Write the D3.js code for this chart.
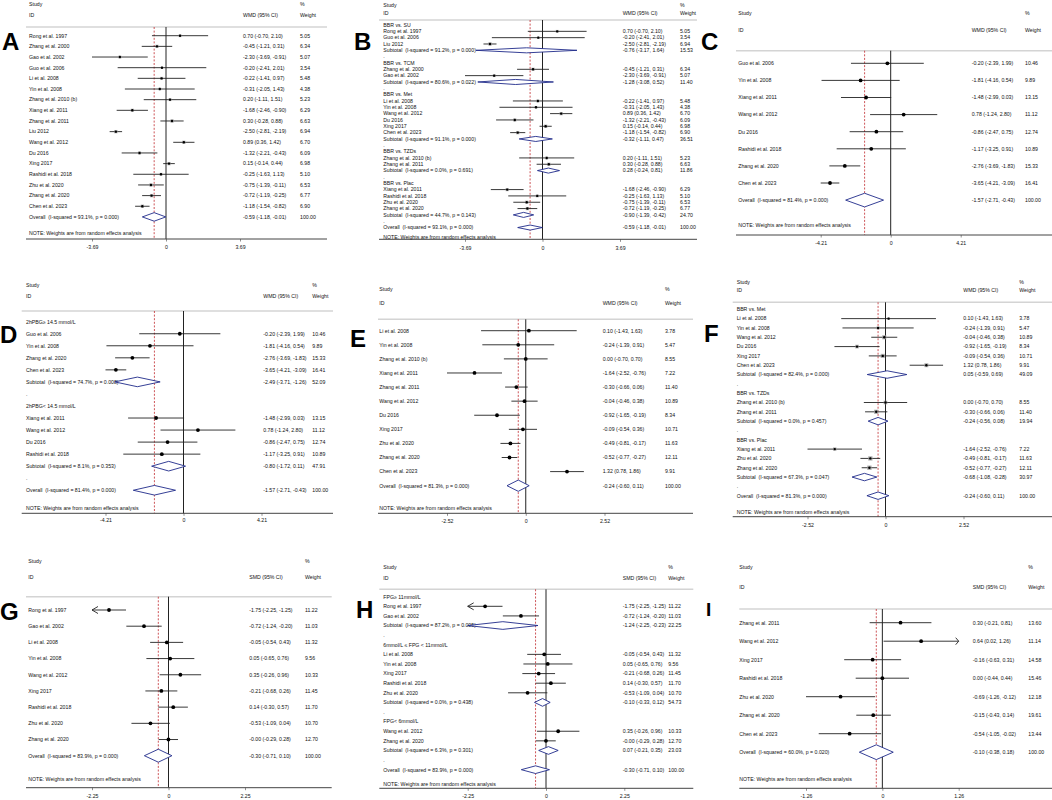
<!DOCTYPE html>
<html><head><meta charset="utf-8">
<script src="https://cdn.jsdelivr.net/npm/d3@7"></script>
<style>body{margin:0;background:#fff} svg text{font-family:"Liberation Sans",Arial,sans-serif;white-space:pre}</style>
</head><body><svg id="c" width="1052" height="800"></svg>
<script>
// ---------- DATA: WMD (panels A, B) ----------
const studiesA = ["Rong et al. 1997","Zhang et al. 2000","Gao et al. 2002","Guo et al. 2006","Li et al. 2008","Yin et al. 2008","Zhang et al. 2010 (b)","Xiang et al. 2011","Zhang et al. 2011","Liu 2012","Wang et al. 2012","Du 2016","Xing 2017","Rashidi et al. 2018","Zhu et al. 2020","Zhang et al. 2020","Chen et al. 2023"];
const estA  = [0.70,-0.45,-2.30,-0.20,-0.22,-0.31,0.20,-1.68,0.30,-2.50,0.89,-1.32,0.15,-0.25,-0.75,-0.72,-1.18];
const lowA  = [-0.70,-1.21,-3.69,-2.41,-1.41,-2.05,-1.11,-2.46,-0.28,-2.81,0.36,-2.21,-0.14,-1.63,-1.39,-1.19,-1.54];
const highA = [2.10,0.31,-0.91,2.01,0.97,1.43,1.51,-0.90,0.88,-2.19,1.42,-0.43,0.44,1.13,-0.11,-0.25,-0.82];
const wA    = [5.05,6.34,5.07,3.54,5.48,4.38,5.23,6.29,6.63,6.94,6.70,6.09,6.98,5.10,6.53,6.77,6.90];
const overallA = [-0.59,-1.18,-0.01]; const overallA_I2 = "93.1%"; const overallA_p = "0.000";
const ticksA = [-3.69, 0, 3.69];

const groupsB = ["BBR vs. SU","BBR vs. TCM","BBR vs. Met","BBR vs. TZDs","BBR vs. Plac"];
const membersB = [["Rong et al. 1997","Guo et al. 2006","Liu 2012"],["Zhang et al. 2000","Gao et al. 2002"],["Li et al. 2008","Yin et al. 2008","Wang et al. 2012","Du 2016","Xing 2017","Chen et al. 2023"],["Zhang et al. 2010 (b)","Zhang et al. 2011"],["Xiang et al. 2011","Rashidi et al. 2018","Zhu et al. 2020","Zhang et al. 2020"]];
const subEstB  = [-0.76,-1.28,-0.32,0.28,-0.90];
const subLowB  = [-3.17,-3.08,-1.11,-0.24,-1.39];
const subHighB = [1.64,0.52,0.47,0.81,-0.42];
const subWB    = [15.53,11.40,36.51,11.86,24.70];
const subI2B   = ["91.2%","80.6%","91.1%","0.0%","44.7%"];
const subPB    = ["0.000","0.022","0.000","0.691","0.143"];

// ---------- DATA: panels C, D ----------
const studiesC = ["Guo et al. 2006","Yin et al. 2008","Xiang et al. 2011","Wang et al. 2012","Du 2016","Rashidi et al. 2018","Zhang et al. 2020","Chen et al. 2023"];
const estC  = [-0.20,-1.81,-1.48,0.78,-0.86,-1.17,-2.76,-3.65];
const lowC  = [-2.39,-4.16,-2.99,-1.24,-2.47,-3.25,-3.69,-4.21];
const highC = [1.99,0.54,0.03,2.80,0.75,0.91,-1.83,-3.09];
const wC    = [10.46,9.89,13.15,11.12,12.74,10.89,15.33,16.41];
const overallC = [-1.57,-2.71,-0.43]; const overallC_I2 = "81.4%"; const overallC_p = "0.000";
const ticksC = [-4.21, 0, 4.21];

const groupsD = ["2hPBG\u2265 14.5 mmol/L","2hPBG< 14.5 mmol/L"];
const membersD = [["Guo et al. 2006","Yin et al. 2008","Zhang et al. 2020","Chen et al. 2023"],["Xiang et al. 2011","Wang et al. 2012","Du 2016","Rashidi et al. 2018"]];
const subEstD  = [-2.49,-0.80];
const subLowD  = [-3.71,-1.72];
const subHighD = [-1.26,0.11];
const subWD    = [52.09,47.91];
const subI2D   = ["74.7%","8.1%"];
const subPD    = ["0.008","0.353"];

// ---------- DATA: panels E, F ----------
const studiesE = ["Li et al. 2008","Yin et al. 2008","Zhang et al. 2010 (b)","Xiang et al. 2011","Zhang et al. 2011","Wang et al. 2012","Du 2016","Xing 2017","Zhu et al. 2020","Zhang et al. 2020","Chen et al. 2023"];
const estE  = [0.10,-0.24,0.00,-1.64,-0.30,-0.04,-0.92,-0.09,-0.49,-0.52,1.32];
const lowE  = [-1.43,-1.39,-0.70,-2.52,-0.66,-0.46,-1.65,-0.54,-0.81,-0.77,0.78];
const highE = [1.63,0.91,0.70,-0.76,0.06,0.38,-0.19,0.36,-0.17,-0.27,1.86];
const wE    = [3.78,5.47,8.55,7.22,11.40,10.89,8.34,10.71,11.63,12.11,9.91];
const overallE = [-0.24,-0.60,0.11]; const overallE_I2 = "81.3%"; const overallE_p = "0.000";
const ticksE = [-2.52, 0, 2.52];

const groupsF = ["BBR vs. Met","BBR vs. TZDs","BBR vs. Plac"];
const membersF = [["Li et al. 2008","Yin et al. 2008","Wang et al. 2012","Du 2016","Xing 2017","Chen et al. 2023"],["Zhang et al. 2010 (b)","Zhang et al. 2011"],["Xiang et al. 2011","Zhu et al. 2020","Zhang et al. 2020"]];
const subEstF  = [0.05,-0.24,-0.68];
const subLowF  = [-0.59,-0.56,-1.08];
const subHighF = [0.69,0.08,-0.28];
const subWF    = [49.09,19.94,30.97];
const subI2F   = ["82.4%","0.0%","67.3%"];
const subPF    = ["0.000","0.457","0.047"];

// ---------- DATA: panels G, H (SMD) ----------
const studiesG = ["Rong et al. 1997","Gao et al. 2002","Li et al. 2008","Yin et al. 2008","Wang et al. 2012","Xing 2017","Rashidi et al. 2018","Zhu et al. 2020","Zhang et al. 2020"];
const estG  = [-1.75,-0.72,-0.05,0.05,0.35,-0.21,0.14,-0.53,-0.001];
const lowG  = [-2.25,-1.24,-0.54,-0.65,-0.26,-0.68,-0.30,-1.09,-0.29];
const highG = [-1.25,-0.20,0.43,0.76,0.96,0.26,0.57,0.04,0.28];
const wG    = [11.22,11.03,11.32,9.56,10.33,11.45,11.70,10.70,12.70];
const arrowG = ["<","","","","","","","",""];
const overallG = [-0.30,-0.71,0.10]; const overallG_I2 = "83.9%"; const overallG_p = "0.000";
const ticksG = [-2.25, 0, 2.25];

const groupsH = ["FPG\u2265 11mmol/L","6mmol/L \u2264 FPG < 11mmol/L","FPG< 6mmol/L"];
const membersH = [["Rong et al. 1997","Gao et al. 2002"],["Li et al. 2008","Yin et al. 2008","Xing 2017","Rashidi et al. 2018","Zhu et al. 2020"],["Wang et al. 2012","Zhang et al. 2020"]];
const subEstH  = [-1.24,-0.10,0.07];
const subLowH  = [-2.25,-0.33,-0.21];
const subHighH = [-0.23,0.12,0.35];
const subWH    = [22.25,54.73,23.03];
const subI2H   = ["87.2%","0.0%","6.3%"];
const subPH    = ["0.005","0.438","0.301"];

// ---------- DATA: panel I (SMD) ----------
const studiesI = ["Zhang et al. 2011","Wang et al. 2012","Xing 2017","Rashidi et al. 2018","Zhu et al. 2020","Zhang et al. 2020","Chen et al. 2023"];
const estI  = [0.30,0.64,-0.16,0.00,-0.69,-0.15,-0.54];
const lowI  = [-0.21,0.02,-0.63,-0.44,-1.26,-0.43,-1.05];
const highI = [0.81,1.26,0.31,0.44,-0.12,0.14,-0.02];
const wI    = [13.60,11.14,14.58,15.46,12.18,19.61,13.44];
const arrowI = ["",">","","","","",""];
const overallI = [-0.10,-0.38,0.18]; const overallI_I2 = "60.0%"; const overallI_p = "0.020";
const ticksI = [-1.26, 0, 1.26];

// ---------- row builders ----------
function simpleRows(names, est, low, high, w, arrows){
  return names.map((n,i)=>({type:"study",label:n,est:est[i],low:low[i],high:high[i],w:w[i],arrow:arrows?arrows[i]:""}));
}
function groupedRows(groups, members, names, est, low, high, w, arrows, sE, sL, sH, sW, sI2, sP){
  const rows=[];
  groups.forEach((g,gi)=>{
    rows.push({type:"group",label:g});
    members[gi].forEach(n=>{const i=names.indexOf(n);
      rows.push({type:"study",label:n,est:est[i],low:low[i],high:high[i],w:w[i],arrow:arrows?arrows[i]:""});});
    rows.push({type:"sub",label:"Subtotal  (I-squared = "+sI2[gi]+", p = "+sP[gi]+")",est:sE[gi],low:sL[gi],high:sH[gi],w:sW[gi]});
    rows.push({type:"dot",label:"."});
  });
  return rows;
}
function overallRow(o,i2,p){return {type:"overall",label:"Overall  (I-squared = "+i2+", p = "+p+")",est:o[0],low:o[1],high:o[2],w:100};}

// ---------- panel layout ----------
const panels = [
 {letter:"A",lx:2,ly:50,metric:"WMD",ticks:ticksA,r:[92,240],labX:29,estX:243,wX:300,hy1:4.5,hy2:15,gy:27,x1:26,x2:327,row0:35.7,step:10.66,noteY:233,axY:239,tp:3.4,marker:"box",
  rows:simpleRows(studiesA,estA,lowA,highA,wA),overall:overallRow(overallA,overallA_I2,overallA_p)},
 {letter:"B",lx:354,ly:50,metric:"WMD",ticks:ticksA,r:[465,620],labX:383.3,estX:622.7,wX:680,hy1:4.7,hy2:13.3,gy:20,x1:379,x2:697,row0:25,step:6.33,noteY:236.7,axY:239.3,tp:4.4,marker:"box",
  rows:groupedRows(groupsB,membersB,studiesA,estA,lowA,highA,wA,null,subEstB,subLowB,subHighB,subWB,subI2B,subPB),overall:overallRow(overallA,overallA_I2,overallA_p)},
 {letter:"C",lx:701,ly:50,metric:"WMD",ticks:ticksC,r:[820.7,960.7],labX:738.3,estX:971.7,wX:1025,hy1:13.3,hy2:30,gy:50.7,x1:736,x2:1052,row0:63.3,step:17.1,noteY:225.3,axY:235,tp:3.4,marker:"dot",
  rows:simpleRows(studiesC,estC,lowC,highC,wC),overall:overallRow(overallC,overallC_I2,overallC_p)},
 {letter:"D",lx:0,ly:343,metric:"WMD",ticks:ticksC,r:[105.5,261.5],labX:26,estX:263.3,wX:312.3,hy1:285,hy2:296,gy:311,x1:21.7,x2:333,row0:321.7,step:12.04,noteY:508.3,axY:513.3,tp:2.5,marker:"dot",
  rows:groupedRows(groupsD,membersD,studiesC,estC,lowC,highC,wC,null,subEstD,subLowD,subHighD,subWD,subI2D,subPD),overall:overallRow(overallC,overallC_I2,overallC_p)},
 {letter:"E",lx:350,ly:347,metric:"WMD",ticks:ticksE,r:[447,604.5],labX:379.3,estX:602.7,wX:665,hy1:289,hy2:303.3,gy:319.3,x1:378,x2:693,row0:330.7,step:14.09,noteY:507.7,axY:513.3,tp:3.4,marker:"dot",
  rows:simpleRows(studiesE,estE,lowE,highE,wE),overall:overallRow(overallE,overallE_I2,overallE_p)},
 {letter:"F",lx:704,ly:342,metric:"WMD",ticks:ticksE,r:[807.5,963.5],labX:736.7,estX:963.3,wX:1019.3,hy1:282.3,hy2:290,gy:302.3,x1:732.7,x2:1052,row0:309.3,step:9.32,noteY:512,axY:516.7,tp:4,marker:"box",
  rows:groupedRows(groupsF,membersF,studiesE,estE,lowE,highE,wE,null,subEstF,subLowF,subHighF,subWF,subI2F,subPF),overall:overallRow(overallE,overallE_I2,overallE_p)},
 {letter:"G",lx:0,ly:620,metric:"SMD",ticks:ticksG,r:[92,245],labX:28.3,estX:249.3,wX:305,hy1:560.7,hy2:577.3,gy:596.7,x1:26,x2:331.7,row0:610,step:16.19,noteY:779.3,axY:787.7,tp:3.7,marker:"dot",
  rows:simpleRows(studiesG,estG,lowG,highG,wG,arrowG),overall:overallRow(overallG,overallG_I2,overallG_p)},
 {letter:"H",lx:356,ly:618,metric:"SMD",ticks:ticksG,r:[467.7,624.3],labX:383.3,estX:622.7,wX:668.3,hy1:567.3,hy2:577.7,gy:589.3,x1:379.3,x2:693.3,row0:596.7,step:9.61,noteY:784,axY:788.3,tp:3.4,marker:"dot",
  rows:groupedRows(groupsH,membersH,studiesG,estG,lowG,highG,wG,arrowG,subEstH,subLowH,subHighH,subWH,subI2H,subPH),overall:overallRow(overallG,overallG_I2,overallG_p)},
 {letter:"I",lx:706,ly:616,metric:"SMD",ticks:ticksI,r:[806,958.7],labX:739.3,estX:972.7,wX:1028.3,hy1:567.3,hy2:586.7,gy:609,x1:739.3,x2:1052,row0:622.7,step:18.5,noteY:779.3,axY:788.3,tp:3.4,marker:"dot",
  rows:simpleRows(studiesI,estI,lowI,highI,wI,arrowI),overall:overallRow(overallI,overallI_I2,overallI_p)}
];

const svg = d3.select("#c");
const FS = 5.2, TXT="#111", CI="#222", NAVY="#1f2a8a", RED="#c0282d";
const f2 = v => v.toFixed(2);

function text(g,x,y,s,anchor){
  return g.append("text").attr("x",x).attr("y",y).attr("dy","0.35em").attr("font-size",FS)
    .attr("fill",TXT).attr("text-anchor",anchor||"start").text(s);
}

panels.forEach(p=>{
  const g = svg.append("g");
  const x = d3.scaleLinear().domain([p.ticks[0],p.ticks[p.ticks.length-1]]).range(p.r);
  const all = p.rows.concat([p.overall]);
  const yOf = i => p.row0 + i*p.step;
  const h = p.step*0.4;

  text(g,p.labX,p.hy1,"Study"); text(g,p.labX,p.hy2,"ID");
  text(g,p.estX,p.hy2,p.metric+" (95% CI)");
  text(g,p.wX,p.hy1,"%"); text(g,p.wX,p.hy2,"Weight");
  g.append("line").attr("x1",p.x1).attr("x2",p.x2).attr("y1",p.gy).attr("y2",p.gy).attr("stroke","#d4d4d4").attr("stroke-width",1.6);

  g.append("line").attr("x1",x(0)).attr("x2",x(0)).attr("y1",p.gy).attr("y2",p.axY).attr("stroke","#222").attr("stroke-width",1);
  g.append("line").attr("x1",x(p.overall.est)).attr("x2",x(p.overall.est)).attr("y1",p.gy).attr("y2",p.axY)
    .attr("stroke",RED).attr("stroke-width",0.8).attr("stroke-dasharray","2,1.6");

  all.forEach((r,i)=>{
    const y = yOf(i);
    text(g,p.labX,y,r.label);
    if(r.type==="study"){
      const lo = Math.max(r.low,x.domain()[0]), hi = Math.min(r.high,x.domain()[1]);
      g.append("line").attr("x1",x(lo)).attr("x2",x(hi)).attr("y1",y).attr("y2",y).attr("stroke",CI).attr("stroke-width",0.9);
      if(r.arrow==="<"){
        const ax=x(lo); g.append("path").attr("d",`M${ax+6},${y-3.5}L${ax},${y}L${ax+6},${y+3.5}`).attr("fill","none").attr("stroke",CI).attr("stroke-width",0.9);
      }
      if(r.arrow===">"){
        const ax=x(hi); g.append("path").attr("d",`M${ax-3},${y-3.5}L${ax},${y}L${ax-3},${y+3.5}`).attr("fill","none").attr("stroke",CI).attr("stroke-width",0.9);
      }
      if(p.marker==="box"){
        const s = 1.25*Math.sqrt(r.w);
        g.append("rect").attr("x",x(r.est)-s/2).attr("y",y-s/2).attr("width",s).attr("height",s).attr("fill","#9a9a9a").attr("opacity",0.8);
        g.append("circle").attr("cx",x(r.est)).attr("cy",y).attr("r",1.2).attr("fill","#000");
      } else {
        g.append("circle").attr("cx",x(r.est)).attr("cy",y).attr("r",1.9).attr("fill","#000");
      }
    }
    if(r.type==="sub"||r.type==="overall"){
      g.append("path").attr("d",`M${x(r.low)},${y}L${x(r.est)},${y-h}L${x(r.high)},${y}L${x(r.est)},${y+h}Z`)
        .attr("fill","#fff").attr("stroke",NAVY).attr("stroke-width",0.9);
    }
    if(r.type==="study"||r.type==="sub"||r.type==="overall"){
      text(g,p.estX,y,f2(r.est)+" ("+f2(r.low)+", "+f2(r.high)+")");
      text(g,p.wX,y,f2(r.w));
    }
  });
  text(g,p.labX,p.noteY,"NOTE: Weights are from random effects analysis");

  g.append("line").attr("x1",p.x1).attr("x2",p.x2).attr("y1",p.axY).attr("y2",p.axY).attr("stroke","#444").attr("stroke-width",1);
  const ax = g.append("g").attr("transform",`translate(0,${p.axY})`)
    .call(d3.axisBottom(x).tickValues(p.ticks).tickFormat(d=>d===0?"0":f2(d)).tickSize(2.5).tickPadding(p.tp));
  ax.select(".domain").remove();
  ax.selectAll("line").attr("stroke","#444").attr("stroke-width",0.6);
  ax.selectAll("text").attr("font-size",FS).attr("fill",TXT).attr("font-family",'"Liberation Sans",Arial,sans-serif');

  svg.append("text").attr("x",p.lx).attr("y",p.ly).attr("font-size",p.letter==="I"?19:24).attr("font-weight","bold")
    .attr("fill","#000").text(p.letter);
});
</script></body></html>
